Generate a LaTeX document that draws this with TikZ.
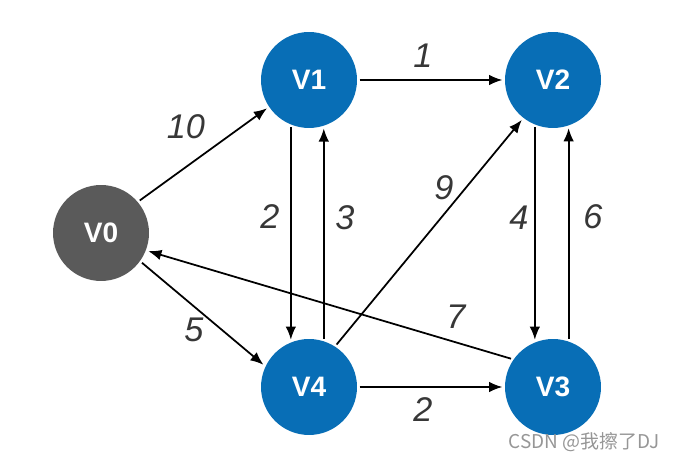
\documentclass[tikz,border=0pt]{standalone}
\usepackage{fontspec}
\setmainfont{Liberation Sans}
\newfontfamily\cjkfont{Noto Sans CJK SC}
\usetikzlibrary{arrows.meta}

\definecolor{vblue}{RGB}{8,110,182}
\definecolor{vgray}{RGB}{90,90,90}
\definecolor{wtext}{RGB}{55,55,55}
\definecolor{marktext}{RGB}{150,150,150}

\begin{document}
\begin{tikzpicture}[x=0.02cm, y=-0.02cm,
    vertex/.style={circle, fill=vblue, minimum size=1.92cm, inner sep=0pt, outer sep=1.5pt,
        text=white, font=\fontsize{16}{19}\selectfont\bfseries},
    source/.style={vertex, fill=vgray},
    edge/.style={line width=1pt, -{Latex[length=7.5pt,width=6pt]}},
    weight/.style={text=wtext, font=\fontsize{19.5}{22}\selectfont\itshape}]

\useasboundingbox (0,0) rectangle (680,462);

%%%%%%%%%%%%%%%%%%%%%% VERTICES %%%%%%%%%%%%%%%%%%%%%%
\node [source] (v0) at (101,233) {V0};
\node [vertex] (v1) at (309,80) {V1};
\node [vertex] (v2) at (553,80) {V2};
\node [vertex] (v4) at (309,387) {V4};
\node [vertex] (v3) at (553,387) {V3};

%%%%%%%%%%%%%%%%%%%%%% EDGES %%%%%%%%%%%%%%%%%%%%%%
% out of V0
\draw [edge] (v0.40) to (v1.214);
\draw [edge] (v0.-36) to (v4.154);
% top and bottom rows
\draw [edge] (v1) to (v2);
\draw [edge] (v4) to (v3);
% left column
\draw [edge] (v1.-111) to (v4.111);
\draw [edge] (v4.73) to (v1.-73);
% right column
\draw [edge] (v2.-111) to (v3.111);
\draw [edge] (v3.72) to (v2.-72);
% diagonals
\draw [edge] (v4.57) to (v2.232);
\draw [edge] (v3.146) to (v0.-21);

%%%%%%%%%%%%%%%%%%%%%% WEIGHTS %%%%%%%%%%%%%%%%%%%%%%
\node [weight] (w01) at (186,127) {10};
\node [weight] (w04) at (194,330) {5};
\node [weight] (w12) at (423,56) {1};
\node [weight] (w43) at (423,410) {2};
\node [weight] (w14) at (270,217) {2};
\node [weight] (w41) at (345,218) {3};
\node [weight] (w23) at (519,218) {4};
\node [weight] (w32) at (593,217) {6};
\node [weight] (w42) at (444,188) {9};
\node [weight] (w30) at (456,317) {7};

% watermark
\node [anchor=east, text=marktext, font=\cjkfont\fontsize{10.8}{13}\selectfont] (mark) at (666,442) {CSDN @我擦了DJ};

\end{tikzpicture}
\end{document}
